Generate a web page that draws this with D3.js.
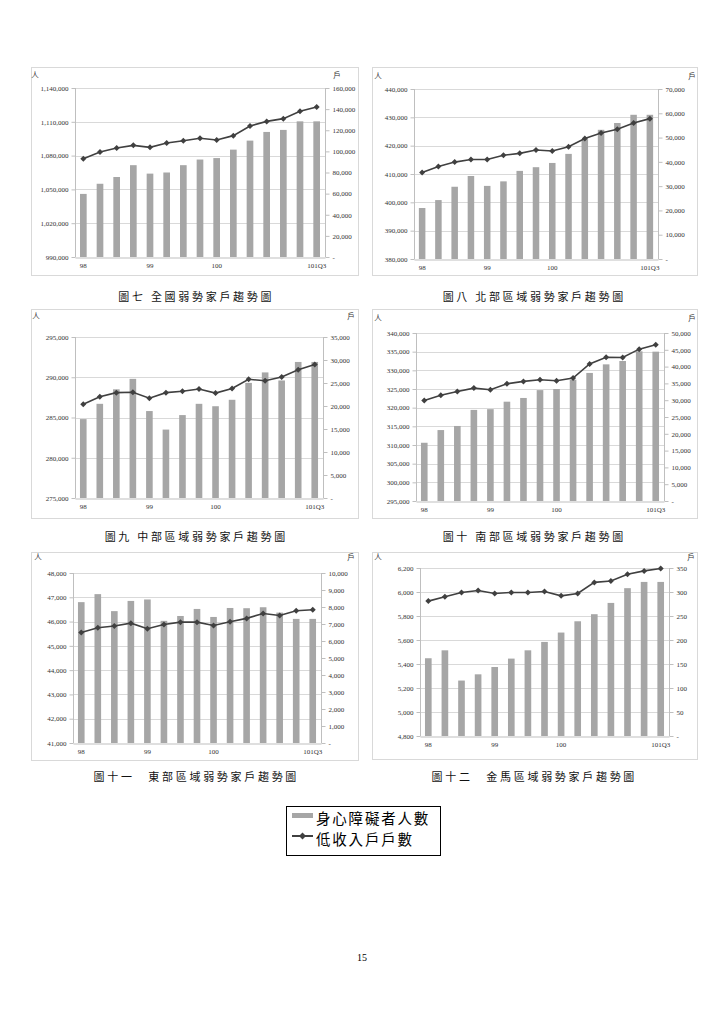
<!DOCTYPE html>
<html><head><meta charset="utf-8">
<script src="https://cdn.jsdelivr.net/npm/d3@7"></script>
<style>
body{margin:0;background:#fff}
svg{display:block}
.num{font-family:"Liberation Serif","Times New Roman",serif;font-size:7px}
.cjk{font-family:"Noto Sans CJK TC","Noto Sans CJK SC",sans-serif}
</style>
</head><body>
<svg id="c" width="724" height="1023"></svg>
<script>
// ---------- data ----------
const categories = ["98Q1","98Q2","98Q3","98Q4","99Q1","99Q2","99Q3","99Q4","100Q1","100Q2","100Q3","100Q4","101Q1","101Q2","101Q3"];
const tickCategories = ["98Q1","99Q1","100Q1","101Q3"];
const tickLabels = ["98","99","100","101Q3"];
const seriesNames = ["身心障礙者人數","低收入戶戶數"];
const titles = ["圖七 全國弱勢家戶趨勢圖","圖八 北部區域弱勢家戶趨勢圖","圖九 中部區域弱勢家戶趨勢圖","圖十 南部區域弱勢家戶趨勢圖","圖十一　東部區域弱勢家戶趨勢圖","圖十二　金馬區域弱勢家戶趨勢圖"];

const nationalPeople     = [1046000,1055000,1061000,1071500,1064000,1065000,1071500,1076500,1077800,1085300,1093300,1101000,1102800,1110400,1110400];
const nationalHouseholds = [93100,99400,103200,105700,103800,107900,110100,112400,110800,114900,124000,128400,131000,137900,142000];
const northPeople        = [398000,400800,405500,409300,405800,407400,411100,412400,413900,417100,422300,425600,428000,430900,430900];
const northHouseholds    = [35600,38100,39900,41000,41000,42700,43500,44900,44500,46200,49600,51900,53400,56000,57800];
const centralPeople      = [284800,286700,288500,289800,285800,283500,285300,286700,286400,287200,289300,290600,289600,291900,291900];
const centralHouseholds  = [20400,22000,22900,23000,21700,22900,23200,23700,22800,23800,25800,25500,26300,27900,29000];
const southPeople        = [310600,314000,315100,319400,319600,321600,322600,324700,325000,327500,329300,331600,332500,335100,335000];
const southHouseholds    = [29900,31500,32600,33600,33100,34900,35600,36100,35800,36600,40800,42800,42700,45200,46500];
const eastPeople         = [46800,47130,46430,46850,46910,46030,46230,46520,46190,46560,46550,46590,46370,46110,46110];
const eastHouseholds     = [6500,6780,6880,7050,6720,6970,7110,7110,6910,7130,7330,7620,7500,7780,7840];
const kinmenPeople       = [5448,5514,5262,5314,5375,5445,5514,5584,5662,5756,5815,5909,6032,6084,6084];
const kinmenHouseholds   = [281,290,299,303,297,299,299,301,292,297,320,323,337,344,349];

// axis ranges [min, max, step]
const leftAxes  = [[990000,1140000,30000],[380000,440000,10000],[275000,295000,5000],[295000,340000,5000],[41000,48000,1000],[4800,6200,200]];
const rightAxes = [[0,160000,20000],[0,70000,10000],[0,35000,5000],[0,50000,5000],[0,10000,1000],[0,350,50]];
const peopleSeries = [nationalPeople,northPeople,centralPeople,southPeople,eastPeople,kinmenPeople];
const householdSeries = [nationalHouseholds,northHouseholds,centralHouseholds,southHouseholds,eastHouseholds,kinmenHouseholds];

// ---------- layout ----------
const layout = [
  {fx:31, fy:67, fw:327, fh:208, l:75,  r:325, t:88,  b:257, renX:35,  huX:337, unitY:74,  capX:195, capY:296},
  {fx:372,fy:67, fw:325, fh:208, l:414, r:658, t:89,  b:259, renX:378, huX:692, unitY:75,  capX:533, capY:296},
  {fx:31, fy:309,fw:327, fh:209, l:75,  r:323, t:337, b:498, renX:36,  huX:351, unitY:315, capX:195, capY:536},
  {fx:372,fy:309,fw:325, fh:209, l:416, r:664, t:333, b:501, renX:378, huX:692, unitY:317, capX:533, capY:536},
  {fx:31, fy:552,fw:327, fh:208, l:73,  r:321, t:573, b:743, renX:38,  huX:351, unitY:556, capX:195, capY:776},
  {fx:372,fy:552,fw:325, fh:207, l:420, r:669, t:568, b:736, renX:378, huX:691, unitY:556, capX:533, capY:776}
];

const svg = d3.select("#c");
const gridColor = "#d9d9d9", axisColor = "#bfbfbf", barColor = "#a6a6a6", lineColor = "#404040", textColor = "#333333";
const fmt = d3.format(",");
const diamond = "M0,-3L3,0L0,3L-3,0Z";

layout.forEach((L, i) => {
  const g = svg.append("g");
  g.append("rect").attr("x", L.fx + 0.5).attr("y", L.fy + 0.5).attr("width", L.fw).attr("height", L.fh)
    .attr("fill", "#fff").attr("stroke", gridColor);

  const [lmin, lmax, lstep] = leftAxes[i];
  const [rmin, rmax, rstep] = rightAxes[i];
  const x = d3.scaleBand().domain(categories).range([L.l, L.r]).paddingInner(0.6).paddingOuter(0.3);
  const yL = d3.scaleLinear().domain([lmin, lmax]).range([L.b, L.t]);
  const yR = d3.scaleLinear().domain([rmin, rmax]).range([L.b, L.t]);
  const lTicks = d3.range(lmin, lmax + lstep / 2, lstep);
  const rTicks = d3.range(rmin, rmax + rstep / 2, rstep);

  // gridlines
  g.append("g").selectAll("line").data(lTicks.slice(1)).join("line")
    .attr("x1", L.l).attr("x2", L.r)
    .attr("y1", d => Math.round(yL(d)) + 0.5).attr("y2", d => Math.round(yL(d)) + 0.5)
    .attr("stroke", gridColor);

  // bars
  g.append("g").selectAll("rect").data(peopleSeries[i]).join("rect")
    .attr("x", (d, j) => x(categories[j]))
    .attr("width", x.bandwidth())
    .attr("y", d => yL(d))
    .attr("height", d => L.b - yL(d))
    .attr("fill", barColor);

  // axes
  const axL = g.append("g").attr("transform", `translate(${L.l + 0.5},0)`)
    .call(d3.axisLeft(yL).tickValues(lTicks).tickFormat(fmt).tickSize(4).tickPadding(3));
  const axR = g.append("g").attr("transform", `translate(${L.r + 0.5},0)`)
    .call(d3.axisRight(yR).tickValues(rTicks).tickFormat(d => d === 0 ? "-" : fmt(d)).tickSize(4).tickPadding(3));
  const axB = g.append("g").attr("transform", `translate(0,${L.b + 0.5})`)
    .call(d3.axisBottom(x).tickValues(tickCategories).tickFormat(d => tickLabels[tickCategories.indexOf(d)]).tickSize(0).tickPadding(6));
  [axL, axR, axB].forEach(a => {
    a.attr("font-family", null).attr("font-size", null);
    a.selectAll("path.domain").attr("stroke", axisColor);
    a.selectAll(".tick line").attr("stroke", axisColor);
    a.selectAll("text").attr("class", "num").attr("fill", textColor);
  });
  axR.selectAll("path.domain").attr("d", `M0,${L.t}V${L.b}`);
  axL.selectAll("path.domain").attr("d", `M0,${L.t}V${L.b}`);

  // line
  const pts = householdSeries[i].map((v, j) => [x(categories[j]) + x.bandwidth() / 2, yR(v)]);
  g.append("path").datum(pts).attr("d", d3.line()).attr("fill", "none")
    .attr("stroke", lineColor).attr("stroke-width", 1.6);
  g.append("g").selectAll("path").data(pts).join("path")
    .attr("d", diamond).attr("transform", d => `translate(${d[0]},${d[1]})`).attr("fill", lineColor);

  // unit labels
  g.append("text").attr("class", "cjk").attr("x", L.renX).attr("y", L.unitY).attr("text-anchor", "middle")
    .attr("dominant-baseline", "central").attr("font-size", 7.5).attr("fill", textColor).text("人");
  g.append("text").attr("class", "cjk").attr("x", L.huX).attr("y", L.unitY).attr("text-anchor", "middle")
    .attr("dominant-baseline", "central").attr("font-size", 7.5).attr("fill", textColor).text("戶");

  // caption
  svg.append("text").attr("class", "cjk").attr("x", L.capX + 1.3).attr("y", L.capY)
    .attr("text-anchor", "middle").attr("dominant-baseline", "central")
    .attr("font-size", 11).attr("letter-spacing", 2.7).attr("fill", "#111").text(titles[i]);
});

// legend
const lg = svg.append("g");
lg.append("rect").attr("x", 286.5).attr("y", 806.5).attr("width", 154).attr("height", 49)
  .attr("fill", "#fff").attr("stroke", "#000");
lg.append("rect").attr("x", 292).attr("y", 813).attr("width", 21).attr("height", 5).attr("fill", barColor);
lg.append("line").attr("x1", 292).attr("x2", 313).attr("y1", 836).attr("y2", 836)
  .attr("stroke", lineColor).attr("stroke-width", 2);
lg.append("path").attr("d", "M0,-3.5L3.5,0L0,3.5L-3.5,0Z").attr("transform", "translate(302.5,836)").attr("fill", lineColor);
lg.selectAll("text.lgt").data(seriesNames).join("text").attr("class", "cjk")
  .attr("x", 316).attr("y", (d, k) => 817 + k * 21).attr("dominant-baseline", "central")
  .attr("font-size", 14.5).attr("letter-spacing", 1.8).attr("fill", "#000").text(d => d);

// page number
svg.append("text").attr("x", 362).attr("y", 957).attr("text-anchor", "middle").attr("dominant-baseline", "central")
  .attr("font-family", "Liberation Serif, serif").attr("font-size", 10).attr("fill", "#000").text("15");
</script>
</body></html>
